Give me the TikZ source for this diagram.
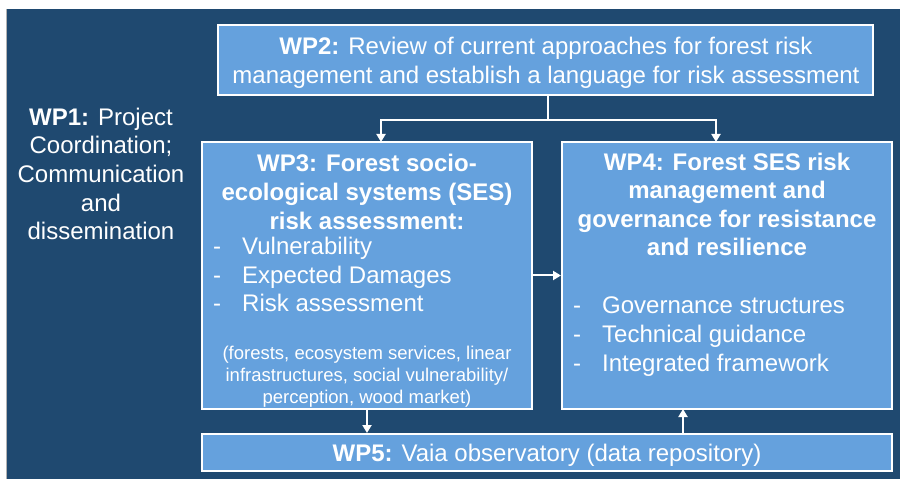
\documentclass[tikz,border=0pt]{standalone}
\usepackage{fontspec}
\setmainfont{Liberation Sans}
\usetikzlibrary{arrows.meta}
\definecolor{bgblue}{HTML}{1F4970}
\definecolor{boxblue}{HTML}{65A1DD}
\tikzset{
  wpbox/.style={draw=white, line width=2bp, fill=boxblue, inner sep=0pt},
  txt/.style={text=white, inner sep=0pt, font=\fontsize{24bp}{28.6bp}\selectfont},
  boldtxt/.style={text=white, inner sep=0pt, font=\fontsize{24bp}{28.6bp}\selectfont\bfseries},
  smalltxt/.style={text=white, inner sep=0pt, font=\fontsize{18.5bp}{22bp}\selectfont},
  conn/.style={draw=white, line width=2bp, -{Triangle[length=8bp,width=9bp]}},
  plainconn/.style={draw=white, line width=2bp},
}
\newcommand{\bl}{\makebox[29bp][l]{-}}
\begin{document}
\begin{tikzpicture}[x=1bp,y=-1bp]
\useasboundingbox (0,0) rectangle (904,479);
\fill[white] (0,0) rectangle (904,479);
\fill[bgblue] (6,9) rectangle (900,479);
\draw[gray!60, line width=0.8bp] (6,9) -- (6,479);

% boxes
\node[wpbox, minimum width=655bp, minimum height=70bp] (wp2) at (545.5,60) {};
\node[wpbox, minimum width=330bp, minimum height=267bp] (wp3) at (367,275.5) {};
\node[wpbox, minimum width=330bp, minimum height=267bp] (wp4) at (727,275.5) {};
\node[wpbox, minimum width=690bp, minimum height=37bp] (wp5) at (547,452.5) {};

% texts
\node[txt, align=center] (t1) at (101,174) {\textbf{WP1:} Project\\Coordination;\\Communication\\and\\dissemination};
\node[txt, align=center] (t2) at (546,63) {\textbf{WP2:} Review of current approaches for forest risk\\management and establish a language for risk assessment};
\node[boldtxt, align=center] (t3) at (367,192) {WP3: Forest socio-\\ecological systems (SES)\\risk assessment:};
\node[txt, align=left, anchor=north west] (l3) at (213,237) {\bl Vulnerability\\\bl Expected Damages\\\bl Risk assessment};
\node[smalltxt, align=center] (p3) at (367,377) {(forests, ecosystem services, linear\\infrastructures, social vulnerability/\\perception, wood market)};
\node[boldtxt, align=center] (t4) at (727,204.5) {WP4: Forest SES risk\\management and\\governance for resistance\\and resilience};
\node[txt, align=left, anchor=north west] (l4) at (573,297) {\bl Governance structures\\\bl Technical guidance\\\bl Integrated framework};
\node[txt] (t5) at (547,455.5) {\textbf{WP5:} Vaia observatory (data repository)};

% connectors
\coordinate (split) at (548,120);
\coordinate (in3) at (381,142);
\coordinate (in4) at (716,142);
\draw[plainconn] (split |- wp2.south) -- (split);
\draw[conn] (split) -| (in3);
\draw[conn] (split) -| (in4);
\draw[conn] (wp3.east) -- (wp4.west);
\draw[conn] (wp3.south) -- (wp3.south |- wp5.north);
\coordinate (up4) at (683,409);
\draw[conn] (up4 |- wp5.north) -- (up4);
\end{tikzpicture}
\end{document}
